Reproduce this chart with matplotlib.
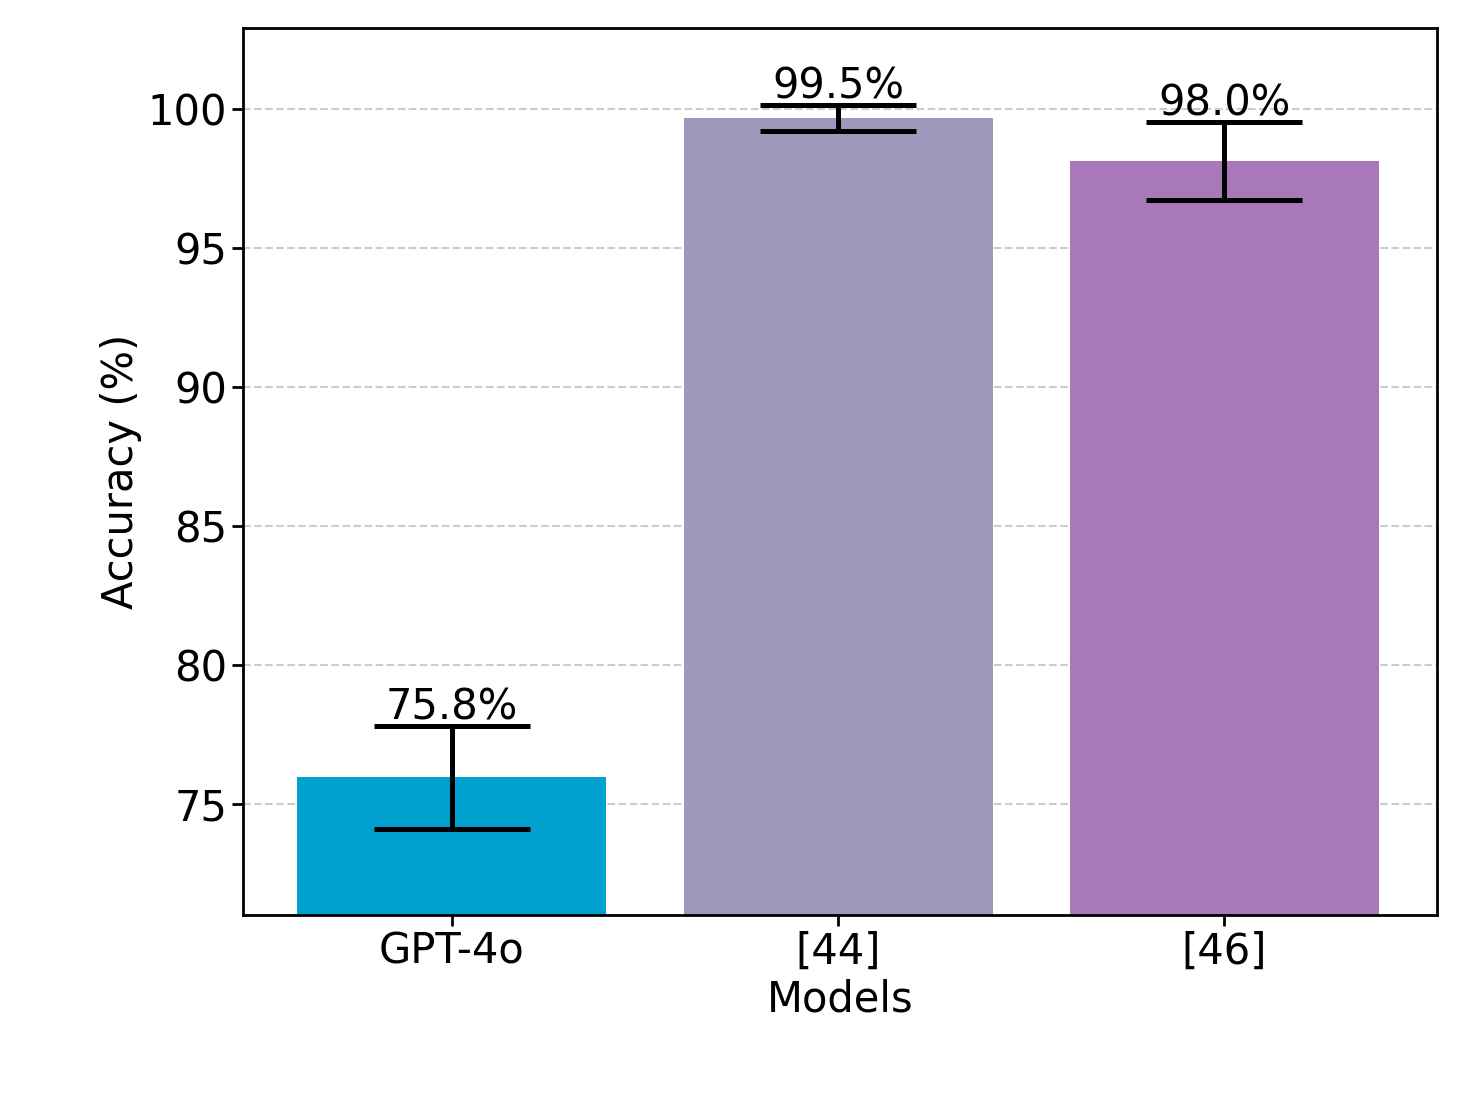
import matplotlib
matplotlib.use("Agg")
import matplotlib.pyplot as plt

models = ["GPT-4o", "[44]", "[46]"]
accuracy = [75.95, 99.67, 98.13]
errors = [1.85, 0.47, 1.4]
labels = ["75.8%", "99.5%", "98.0%"]
colors = ["#00a0cf", "#9e98bb", "#a878b8"]

fig = plt.figure(figsize=(14.65, 11.04), dpi=100)
ax = fig.add_axes([243/1465, 1-915/1104, (1437-243)/1465, (915-28)/1104])
x = range(len(models))
ax.bar(x, accuracy, width=0.8, color=colors, yerr=errors,
       error_kw=dict(ecolor="black", elinewidth=3.6, capsize=56, capthick=3.6))
for i in x:
    ax.text(i, accuracy[i] + errors[i] - 0.1, labels[i], ha="center", va="bottom", fontsize=30)
ax.set_xticks(list(x))
ax.set_xticklabels(models)
ax.set_xlim(-0.54, 2.55)
ax.set_ylim(71, 102.9)
ax.set_yticks([75, 80, 85, 90, 95, 100])
ax.yaxis.grid(True, linestyle="--", color="#cccccc", linewidth=1.5)
ax.set_axisbelow(True)
ax.tick_params(labelsize=30, width=2, length=8)
for s in ax.spines.values():
    s.set_linewidth(2)
ax.set_xlabel("Models", fontsize=30)
ax.set_ylabel("Accuracy (%)", fontsize=30)
fig.savefig("out.png", dpi=100)
